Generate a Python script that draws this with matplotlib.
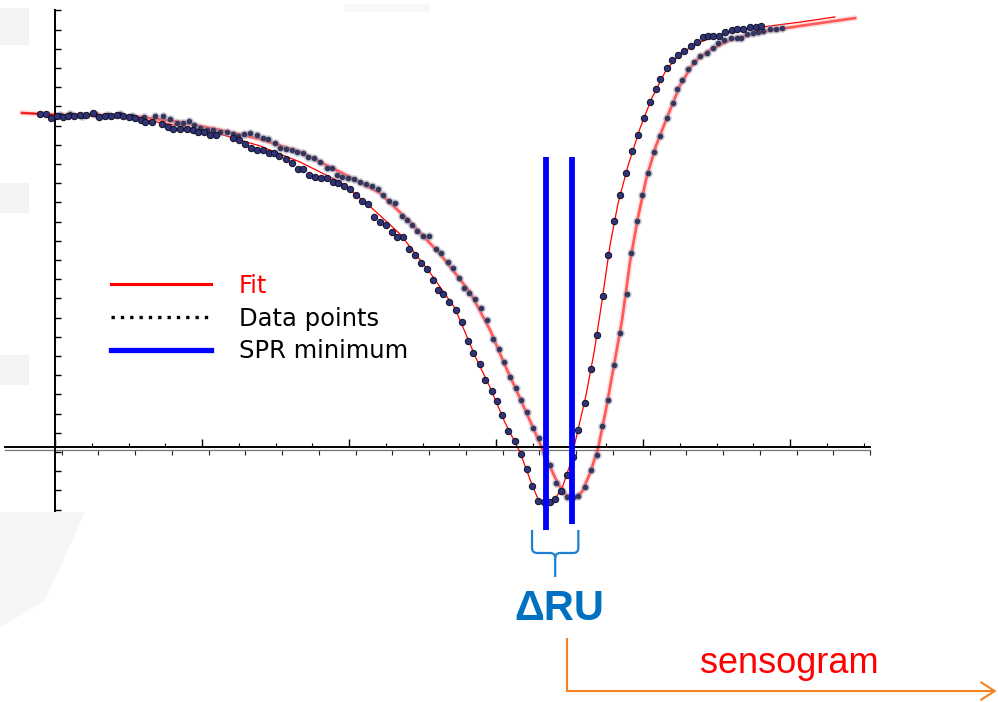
import numpy as np
import matplotlib
matplotlib.use("Agg")
import matplotlib.pyplot as plt
from matplotlib.lines import Line2D
from matplotlib.patches import Rectangle, Polygon, FancyArrowPatch, PathPatch
from matplotlib.path import Path

# ---- SPR reflectivity dips: angle (a.u.) vs reflected intensity (a.u.) ----
# first scan (before binding)
angle_a = [-4.1, -2.4, -1.1, 0.5, 2.2, 3.5, 5.2, 6.8, 8.4, 10.3, 12.0, 13.6, 15.2, 16.9, 18.5,
           20.1, 21.8, 23.4, 24.5, 26.4, 29.1, 30.7, 32.1, 34.0, 35.9, 37.6, 38.9, 40.5, 42.2,
           43.8, 48.4, 50.1, 51.7, 53.3, 55.0, 56.6, 58.2, 59.6, 61.0, 62.9, 64.5, 66.1, 67.5,
           69.1, 70.7, 72.4, 74.0, 75.6, 77.0, 78.6, 80.3, 81.9, 83.5, 85.2, 86.8, 88.4, 90.1,
           91.7, 93.1, 94.7, 96.3, 98.0, 99.6, 101.2, 102.9, 104.2, 105.6, 107.2, 109.1, 110.7,
           112.4, 113.7, 115.6, 117.0, 118.9, 120.3, 121.6, 123.3, 125.2, 126.8, 128.4, 129.8,
           131.4, 133.1, 134.7, 136.1, 137.7, 139.3, 141.0, 142.3, 144.2, 145.9, 147.5, 149.1,
           150.5, 152.1, 153.7, 155.4, 157.0, 158.6, 160.3, 161.9, 163.5, 164.6, 166.5, 167.9,
           169.5, 171.2, 173.1, 174.7, 176.3, 177.7, 179.0, 180.7, 182.3, 184.2, 185.6, 187.2,
           189.1, 190.7, 192.1]
refl_a = [176.0, 176.0, 173.9, 175.0, 174.5, 175.0, 175.0, 175.5, 175.5, 176.6, 174.5, 175.0,
          175.0, 175.5, 175.0, 174.5, 173.9, 172.9, 171.9, 171.9, 170.8, 169.3, 168.2, 168.2,
          168.2, 167.7, 166.7, 166.7, 165.1, 165.1, 163.5, 162.5, 160.4, 158.3, 157.3, 157.3,
          155.7, 155.7, 154.2, 152.6, 150.5, 147.4, 147.4, 144.3, 143.2, 142.7, 142.7, 140.6,
          140.1, 138.5, 137.0, 133.8, 130.7, 129.2, 122.4, 119.8, 118.2, 114.6, 112.0, 112.0,
          105.7, 102.6, 98.4, 95.3, 89.6, 84.4, 82.3, 78.1, 74.0, 67.7, 57.8, 51.6, 45.8, 37.5,
          31.8, 26.6, 19.3, 10.9, 5.7, -1.0, -8.9, -17.7, -25.5, -26.0, -26.0, -24.5, -20.3,
          -12.0, -2.6, 11.5, 25.5, 43.2, 60.9, 81.2, 102.6, 120.3, 133.8, 145.3, 156.8, 165.1,
          173.9, 182.3, 189.1, 194.3, 200.0, 204.2, 206.8, 208.8, 211.5, 213.5, 216.1, 216.7,
          216.7, 216.7, 218.7, 219.8, 220.3, 220.3, 221.3, 221.3, 221.9]

# second scan (after binding, dip shifted)
angle_b = [1.4, 4.1, 7.3, 10.9, 14.4, 17.7, 21.0, 24.2, 27.2, 29.4, 31.3, 33.2, 34.8, 36.5,
           37.8, 39.5, 41.4, 43.0, 44.9, 46.8, 48.4, 49.8, 51.4, 53.1, 55.0, 56.6, 58.0, 59.9,
           61.2, 62.9, 64.5, 65.9, 67.5, 68.8, 70.5, 72.1, 74.0, 75.4, 76.7, 78.1, 79.7, 81.4,
           83.0, 84.6, 86.3, 87.9, 89.3, 90.9, 92.5, 94.4, 95.8, 97.1, 98.5, 100.1, 101.8,
           103.7, 105.0, 106.9, 108.3, 109.9, 111.3, 112.7, 114.3, 115.9, 117.6, 119.2, 120.8,
           122.2, 123.8, 125.4, 126.8, 128.4, 130.1, 131.7, 133.3, 134.7, 136.3, 138.0, 139.3,
           141.0, 142.3, 144.2, 145.9, 147.5, 148.8, 150.5, 152.1, 153.7, 155.6, 156.7, 158.4,
           159.7, 161.4, 163.0, 164.6, 166.5, 168.2, 169.3, 170.6, 172.2, 173.9, 175.5, 177.4,
           179.0, 180.4, 182.0, 183.9, 185.6, 186.7, 188.3, 189.9, 191.3, 192.7, 194.6, 196.2,
           197.8]
refl_b = [175.5, 176.0, 175.0, 176.0, 175.5, 176.0, 175.0, 174.5, 175.0, 175.0, 173.4, 171.3,
          171.3, 172.4, 170.3, 168.7, 167.7, 167.7, 166.7, 166.7, 165.6, 164.6, 165.6, 166.1,
          165.1, 163.5, 163.0, 160.9, 158.3, 157.8, 157.3, 156.2, 155.7, 153.6, 153.1, 151.0,
          147.9, 147.9, 144.3, 143.2, 142.7, 142.2, 140.6, 139.6, 138.5, 137.0, 133.8, 130.7,
          129.7, 122.9, 120.8, 118.2, 115.1, 112.5, 112.5, 105.7, 103.6, 99.0, 95.8, 90.6,
          85.4, 82.8, 79.7, 75.0, 68.7, 58.9, 53.6, 46.9, 39.1, 33.3, 27.1, 20.8, 12.5, 7.3,
          -0.5, -6.8, -16.1, -20.3, -23.4, -23.4, -22.9, -18.2, -9.4, -1.6, 13.5, 27.1, 45.3,
          62.0, 82.3, 103.6, 120.3, 133.8, 145.3, 156.2, 164.6, 173.9, 181.8, 189.1, 193.7,
          199.5, 203.1, 206.2, 207.8, 210.4, 213.0, 214.6, 215.6, 215.6, 215.6, 217.7, 218.2,
          218.7, 219.3, 220.3, 220.3, 220.8]

# fitted reflectivity curves
fit_a_x = [-9.0, 1.4, 12.2, 23.1, 34.0, 44.9, 55.8, 66.7, 77.6, 85.7, 93.9, 102.0, 108.8,
           114.3, 118.4, 122.4, 126.5, 129.2, 131.4, 133.6, 135.8, 138.0, 140.1, 142.3, 144.5,
           146.7, 148.8, 151.0, 153.2, 155.9, 159.2, 162.4, 166.3, 170.1, 175.5, 181.0, 186.4,
           194.6, 202.7, 212.2]
fit_a_y = [176.6, 175.5, 175.0, 173.4, 169.8, 165.6, 159.4, 151.0, 140.6, 128.0, 113.5, 93.5,
           75.0, 50.0, 33.5, 15.5, 0.0, -14.0, -24.5, -26.6, -25.0, -18.7, -6.8, 11.5, 29.7,
           52.1, 78.1, 107.5, 129.5, 149.0, 168.7, 184.4, 199.0, 207.5, 213.5, 217.2, 219.8,
           221.9, 223.9, 226.6]
fit_b_x = [-9.0, 1.4, 12.2, 23.1, 34.0, 44.9, 55.8, 66.7, 77.6, 88.4, 96.6, 104.8, 112.9,
           118.4, 122.4, 126.5, 130.6, 134.1, 136.9, 139.0, 141.2, 143.4, 145.6, 147.8, 149.9,
           152.1, 154.3, 156.5, 158.6, 160.8, 163.5, 166.8, 170.1, 173.9, 178.2, 183.7, 191.8,
           202.7, 217.7]
fit_b_y = [176.6, 175.5, 175.5, 174.5, 171.9, 167.7, 163.0, 156.2, 145.8, 134.9, 119.8, 103.1,
           83.3, 63.5, 45.3, 28.1, 10.4, -5.2, -16.7, -22.4, -24.0, -20.8, -10.9, 2.1, 21.9,
           45.3, 68.7, 99.5, 121.9, 141.7, 159.4, 175.5, 191.1, 203.1, 209.4, 214.6, 218.7,
           221.9, 226.0]

# angle of the reflectivity minimum for each scan
spr_min = [133.6, 140.6]

legend_labels = ["Fit", "Data points", "SPR minimum"]

# ---------------------------------------------------------------------------
W, H = 998, 702
fig = plt.figure(figsize=(W / 100, H / 100), dpi=100)
fig.patch.set_facecolor("white")

ax = fig.add_axes([0, 0, 1, 1])
ax.set_xlim(-14.97, 256.59)
ax.set_ylim(-130.21, 235.42)
ax.patch.set_alpha(0)


def fx(px):
    return px / W


def fy(py):
    return 1 - py / H


# soft grey slide background peeking out at the left edge
for (x0, y0, x1, y1) in [(0, 8, 29, 45), (0, 183, 29, 213), (0, 355, 29, 385)]:
    ax.add_patch(Rectangle((fx(x0), fy(y1)), fx(x1) - fx(x0), fy(y0) - fy(y1),
                           transform=ax.transAxes, facecolor="#f3f3f3",
                           edgecolor="none", zorder=-5))
ax.add_patch(Polygon([(fx(0), fy(512)), (fx(85), fy(512)), (fx(45), fy(600)), (fx(0), fy(628))],
                     closed=True, transform=ax.transAxes, facecolor="#f6f6f6",
                     edgecolor="none", zorder=-5))
ax.add_patch(Rectangle((fx(345), fy(12)), fx(85), fx(12), transform=ax.transAxes,
                       facecolor="#faf7f7", edgecolor="none", zorder=-5))

# ---- axes lines and ticks ----
ax.spines[["top", "right"]].set_visible(False)
ax.spines["left"].set_position(("data", 0))
ax.spines["left"].set_bounds(-30.7, 230.2)
ax.spines["bottom"].set_position(("data", 2.6))
ax.spines["bottom"].set_bounds(-13.6, 221.8)
for s in ("left", "bottom"):
    ax.spines[s].set_linewidth(1.4)
    ax.spines[s].set_color("black")

ax.set_yticks(np.arange(-30, 231, 10))
ax.tick_params(axis="y", direction="in", length=4.5, width=1.0, color="black",
               labelleft=False)
ax.set_xticks(np.arange(0, 221, 40))
ax.set_xticks(np.arange(0, 221, 10), minor=True)
ax.tick_params(axis="x", which="major", direction="in", length=6, width=1.0,
               labelbottom=False)
ax.tick_params(axis="x", which="minor", direction="in", length=3, width=0.8,
               labelbottom=False)

sec = ax.secondary_xaxis(fy(450))
sec.set_xticks(np.arange(1.8, 222, 10))
sec.tick_params(axis="x", direction="out", length=3.5, width=0.8, color="#222222",
                labelbottom=False, labeltop=False)
for s in sec.spines.values():
    s.set_color("#777777")
    s.set_linewidth(0.9)
sec.spines["bottom"].set_bounds(-13.6, 221.8)

# ---- fits ----
ax.plot(fit_b_x, fit_b_y, color="#ff3030", lw=4.2, alpha=0.15,
        solid_capstyle="round", zorder=2)
ax.plot(fit_b_x, fit_b_y, color="#ff2a2a", lw=1.9, alpha=0.75, zorder=2.1)
ax.plot(fit_a_x, fit_a_y, color="#ff0000", lw=0.9, zorder=2.2)

# ---- measured points ----
ax.plot(angle_b, refl_b, ls="none", marker="o", ms=6.2, mfc="#8f90a8", mec="none",
        alpha=0.45, zorder=3)
ax.plot(angle_b, refl_b, ls="none", marker="o", ms=4.0, mfc="#35365c", mec="none",
        zorder=3.1)
ax.plot(angle_a, refl_a, ls="none", marker="o", ms=4.6, mfc="#30337a", mec="#101020",
        mew=0.7, zorder=4)

# ---- SPR minimum markers ----
ax.vlines(spr_min, [-40.6, -37.5], 153.6, colors="#0000ff", lw=4.2, zorder=5)

# ---- legend ----
handles = [Line2D([], [], color="#ff0000", lw=2.2),
           Line2D([], [], color="black", lw=2.4, ls=(0, (1, 1.8))),
           Line2D([], [], color="#0000ff", lw=3.8)]
leg = ax.legend(handles, legend_labels, loc="upper left",
                bbox_to_anchor=(fx(111), fy(274)), frameon=False,
                prop={"family": "DejaVu Sans", "size": 17.5},
                handlelength=4.1, handletextpad=1.15, labelspacing=0.36,
                borderpad=0, borderaxespad=0,
                labelcolor=["#ff0000", "black", "black"])

# ---- brace spanning the two minima ----
xl, xr = spr_min[0] - 3.8, spr_min[1] + 1.8
xc = 0.5 * (xl + xr)
ytop, yh, ybot = -40.6, -52.6, -65.1
rx, ry = 1.4, 2.6
brace = Path(
    [(xl, ytop), (xl, yh + ry), (xl, yh), (xl + rx, yh), (xc - rx, yh), (xc, yh), (xc, yh - ry),
     (xc, ybot),
     (xr, ytop), (xr, yh + ry), (xr, yh), (xr - rx, yh), (xc + rx, yh), (xc, yh), (xc, yh - ry)],
    [Path.MOVETO, Path.LINETO, Path.CURVE3, Path.CURVE3, Path.LINETO, Path.CURVE3, Path.CURVE3,
     Path.LINETO,
     Path.MOVETO, Path.LINETO, Path.CURVE3, Path.CURVE3, Path.LINETO, Path.CURVE3, Path.CURVE3])
ax.add_patch(PathPatch(brace, facecolor="none", edgecolor="#1f7fd2", lw=1.6, zorder=5))

ax.text(np.mean(spr_min), -87.5, "ΔRU", ha="center", va="baseline", fontsize=30,
        fontweight="bold", color="#0070c0", family="Liberation Sans")

# ---- link to the sensogram ----
ax.plot([139.3, 139.3], [-97.4, -124.5], color="#f5821f", lw=1.5, zorder=5)
ax.add_patch(FancyArrowPatch((139.3, -124.5), (256.2, -124.5),
                             arrowstyle="->,head_length=0.7,head_width=0.45",
                             mutation_scale=14, color="#f5821f", lw=1.5,
                             shrinkA=0, shrinkB=0, zorder=5))
ax.text(199.7, -115.1, "sensogram", ha="center", va="baseline", fontsize=26,
        color="#ff0000", family="Liberation Sans")

fig.savefig("out.png", dpi=100, facecolor="white")
